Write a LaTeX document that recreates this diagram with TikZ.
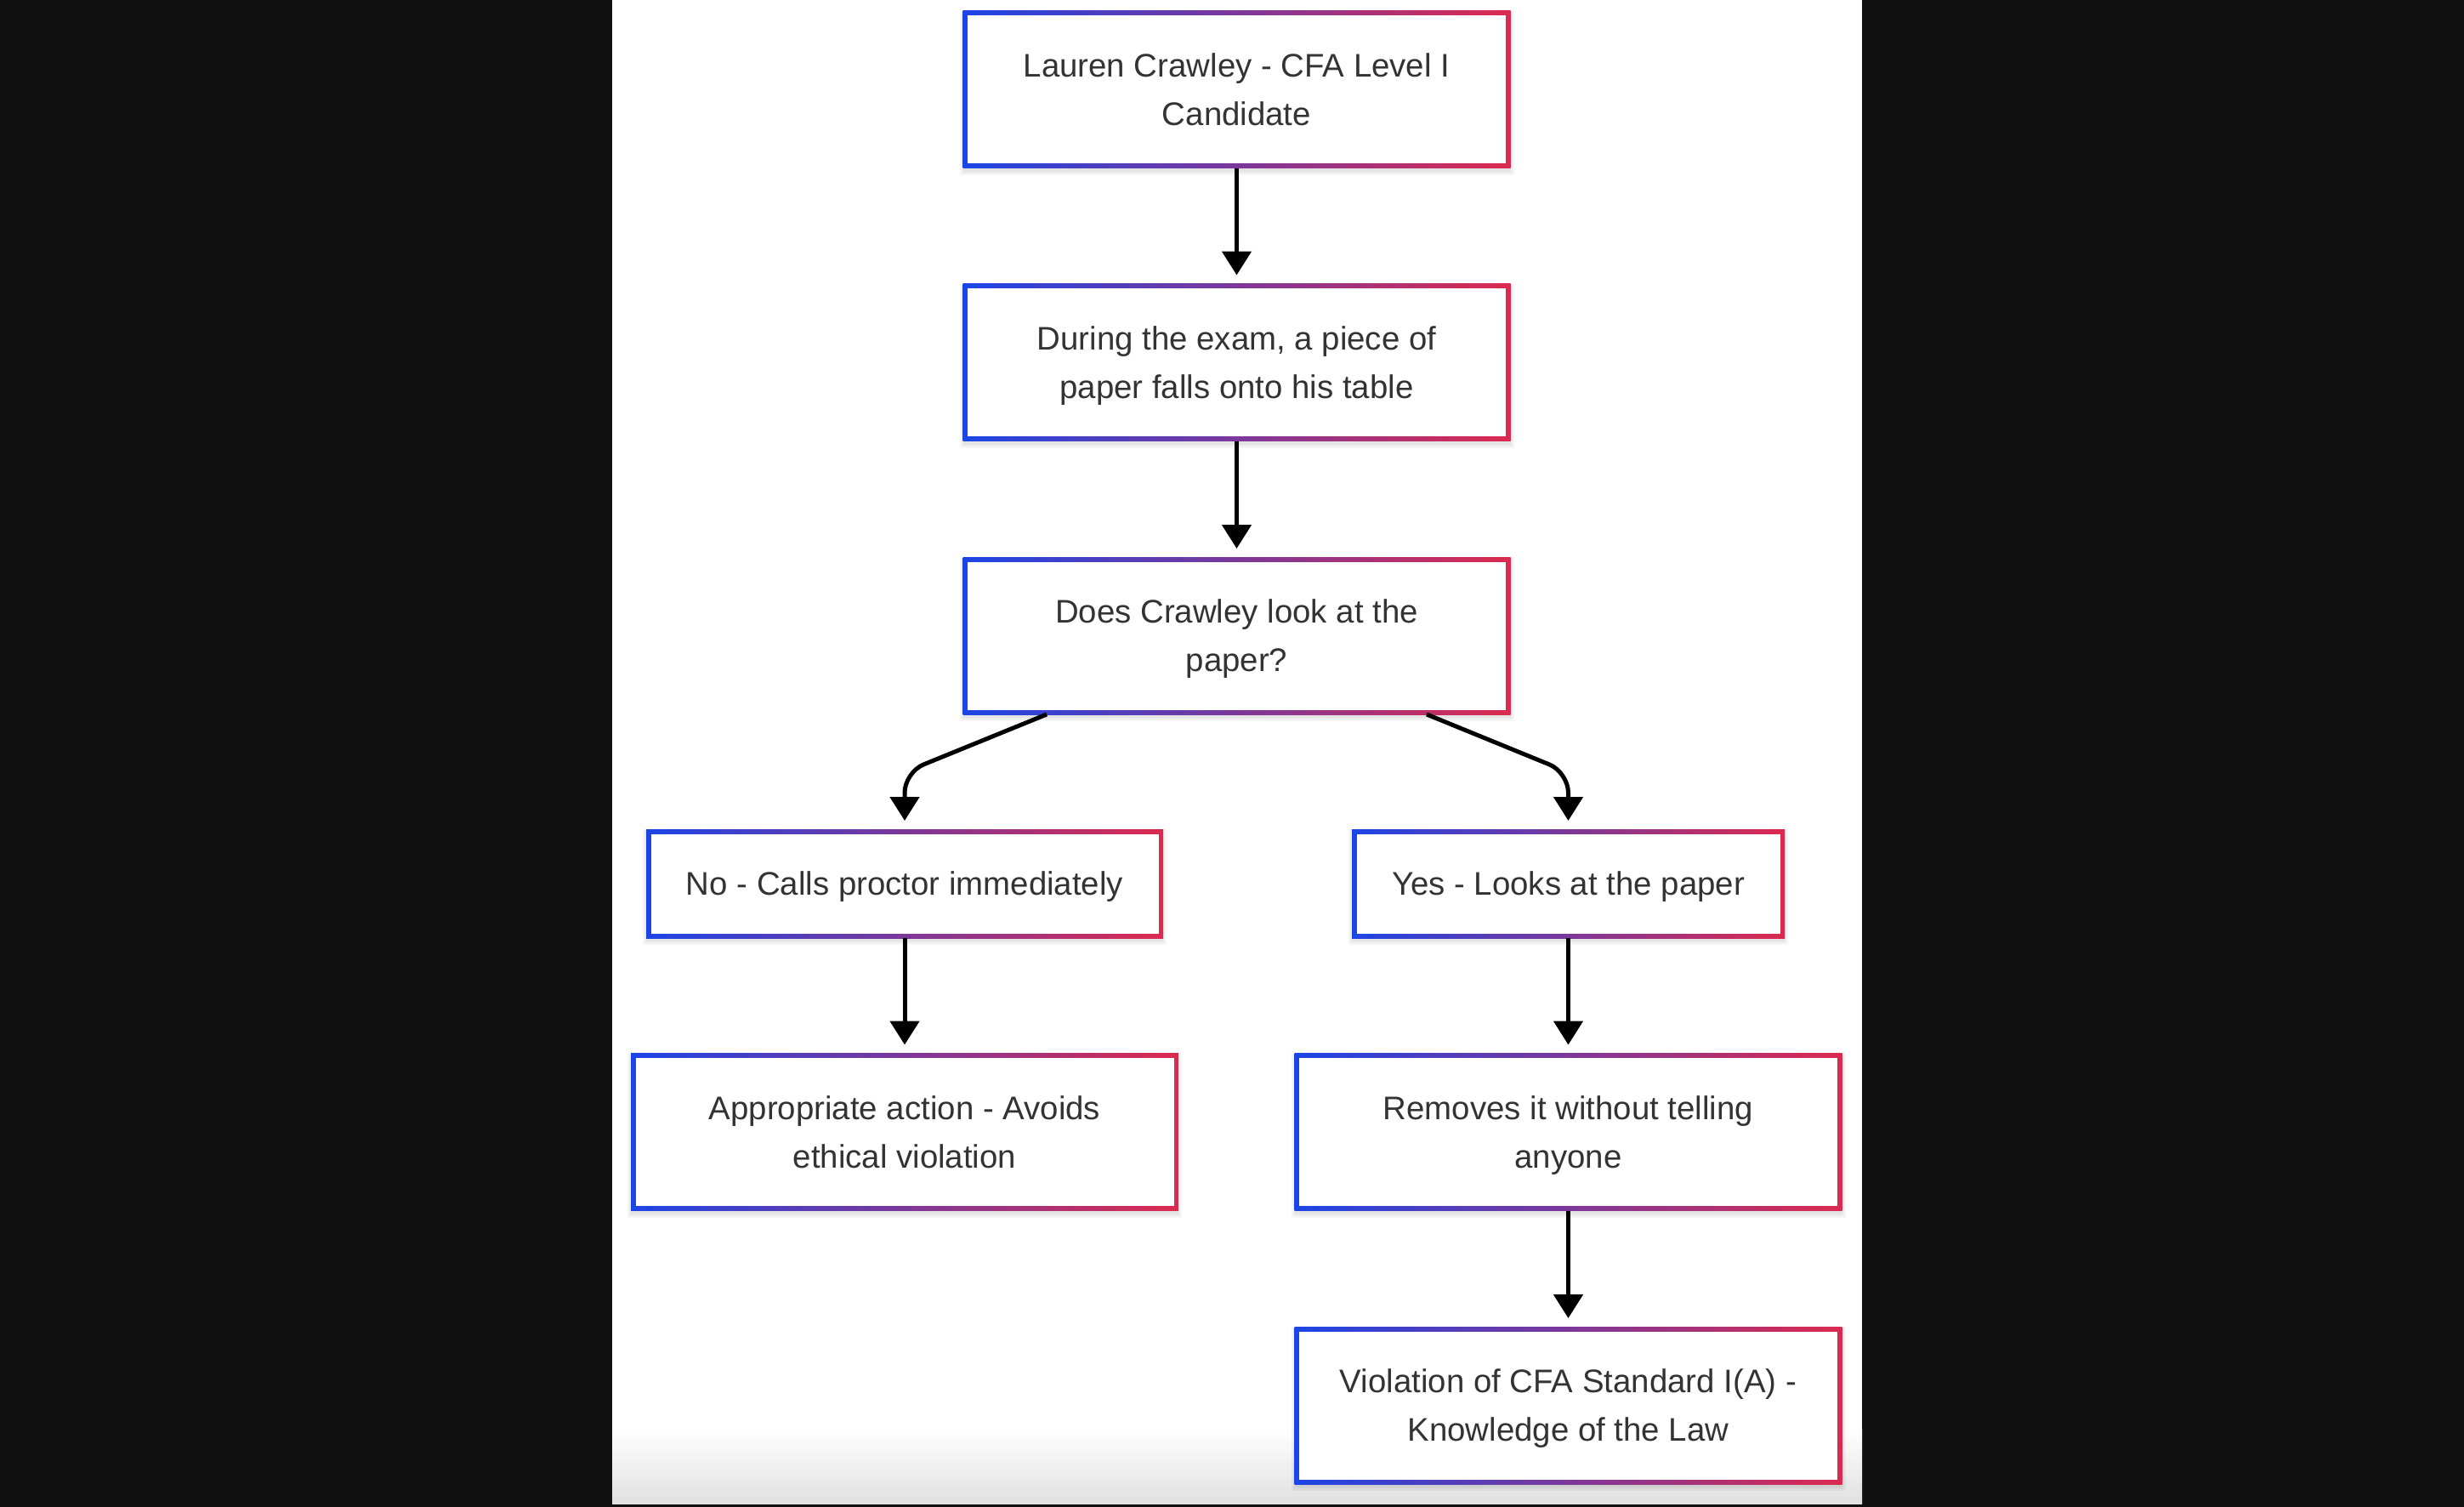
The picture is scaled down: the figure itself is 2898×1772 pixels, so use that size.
\documentclass[tikz,border=0pt]{standalone}
\usepackage{fontspec}
\setmainfont{Liberation Sans}
\usetikzlibrary{arrows.meta}
\usetikzlibrary{backgrounds}

\definecolor{bordblue}{RGB}{28,69,230}
\definecolor{bordpurple}{RGB}{112,46,158}
\definecolor{bordred}{RGB}{220,42,79}
\definecolor{textgray}{RGB}{51,51,51}
\definecolor{pagedark}{RGB}{17,17,17}

\begin{document}
\begin{tikzpicture}[x=0.5pt, y=-0.5pt,
    box/.style={rectangle, fill=white, text=textgray, align=center, inner sep=0pt, outer sep=2.75pt,
        text depth=0pt, font=\fontsize{19.2pt}{28.5pt}\selectfont},
    widebox/.style={box, minimum width=316.5pt, minimum height=87pt},
    arr/.style={line width=2.5pt, -{Triangle[width=17pt,length=14pt]}, shorten >=5pt}]
    \node (cand) at (1454.5,105) [widebox] {Lauren Crawley - CFA Level I\\Candidate};
    \node (paper) at (1454.5,426) [widebox] {During the exam, a piece of\\paper falls onto his table};
    \node (look) at (1454.5,747.5) [widebox] {Does Crawley look at the\\paper?};
    \node (no) at (1064,1039) [box, minimum width=298.5pt, minimum height=58.5pt] {No - Calls proctor immediately};
    \node (yes) at (1844.5,1039) [box, minimum width=249pt, minimum height=58.5pt] {Yes - Looks at the paper};
    \node (ok) at (1064,1331) [widebox] {Appropriate action - Avoids\\ethical violation};
    \node (remove) at (1844.5,1331) [widebox] {Removes it without telling\\anyone};
    \node (viol) at (1844.5,1652.5) [widebox] {Violation of CFA Standard I(A) -\\Knowledge of the Law};

    \coordinate (nobend) at (1064,908);
    \coordinate (yesbend) at (1844.5,908);

    \draw[arr] (cand) -- (paper);
    \draw[arr] (paper) -- (look);
    \draw[arr, rounded corners=12pt] ([xshift=-111.75pt]look.south) -- (nobend) -- (no);
    \draw[arr, rounded corners=12pt] ([xshift=111.75pt]look.south) -- (yesbend) -- (yes);
    \draw[arr] (no) -- (ok);
    \draw[arr] (yes) -- (remove);
    \draw[arr] (remove) -- (viol);

    \begin{scope}[on background layer]
        \fill[pagedark] (0,0) rectangle (2898,1772);
        \fill[white] (720,0) rectangle (2190,1768);
        \shade[top color=white, bottom color=black!12] (720,1680) rectangle (2190,1768);
        \foreach \n in {cand,paper,look,no,yes,ok,remove,viol} {
            \foreach \s in {1pt,2pt,3pt} {
                \fill[black, opacity=0.035] ([shift={(-\s+1pt,-\s-1pt)}]\n.south west) rectangle ([shift={(\s-1pt,\s-3pt)}]\n.north east);
            }
            \shade[left color=bordblue, middle color=bordpurple, right color=bordred] (\n.south west) rectangle (\n.north east);
        }
    \end{scope}
\end{tikzpicture}
\end{document}
